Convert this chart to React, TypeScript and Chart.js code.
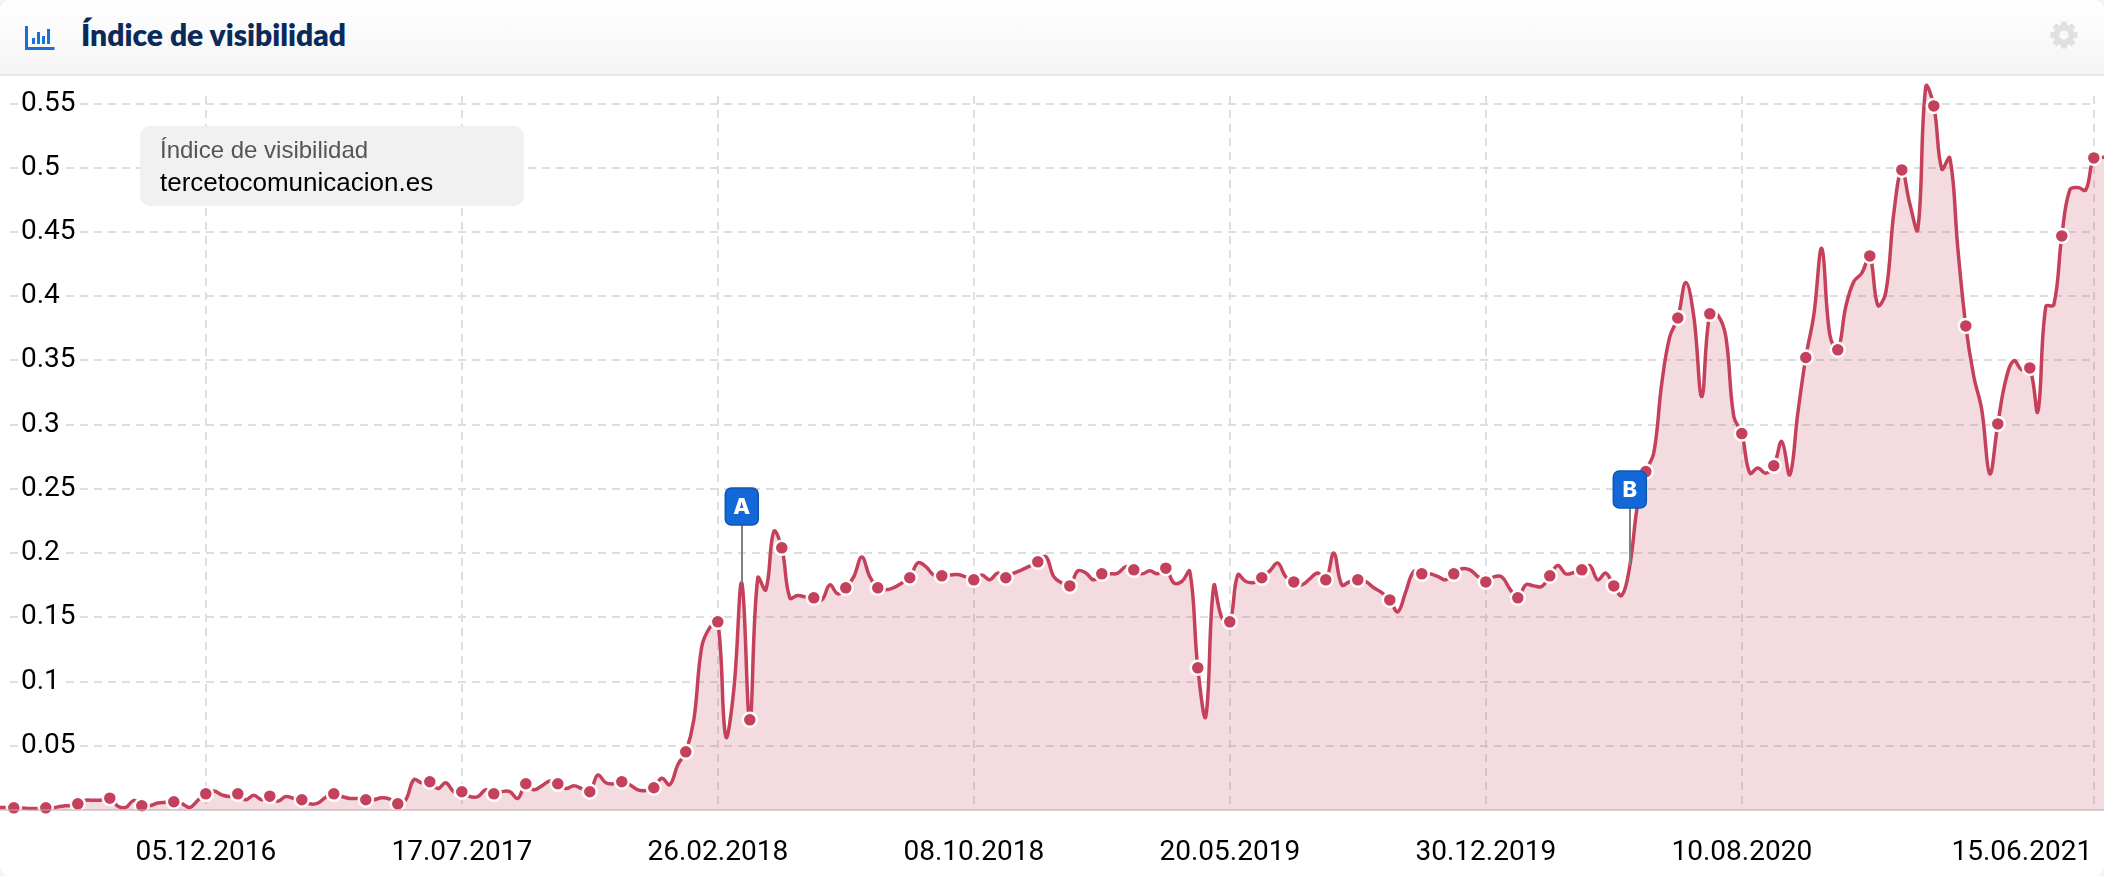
import React, { useEffect, useRef } from "react";
import { Chart, registerables } from "chart.js";

Chart.register(...registerables);

const seriesName = "Índice de visibilidad";
const domainName = "tercetocomunicacion.es";

// Weekly values; every fourth one carries a marker
const visibility = [
  0.002, 0.002,
  0.0017, 0.0015, 0.0012, 0.0012,
  0.0017, 0.0018, 0.003, 0.0035,
  0.0048, 0.0076, 0.0075, 0.0078,
  0.0092, 0.003, 0.002, 0.0075,
  0.0033, 0.0033, 0.0055, 0.006,
  0.0064, 0.005, 0.002, 0.0075,
  0.0126, 0.0147, 0.0118, 0.0105,
  0.0126, 0.008, 0.0115, 0.008,
  0.0108, 0.0068, 0.0105, 0.009,
  0.008, 0.0048, 0.0053, 0.01,
  0.0126, 0.0105, 0.009, 0.009,
  0.008, 0.008, 0.0095, 0.0085,
  0.0048, 0.008, 0.0236, 0.0212,
  0.022, 0.0167, 0.0212, 0.0143,
  0.0142, 0.0105, 0.0105, 0.0157,
  0.0126, 0.0143, 0.0143, 0.009,
  0.0204, 0.0157, 0.0188, 0.0225,
  0.0204, 0.0167, 0.0188, 0.0167,
  0.0142, 0.0272, 0.0212, 0.0204,
  0.022, 0.0197, 0.0157, 0.0152,
  0.0173, 0.0247, 0.0197, 0.0353,
  0.0453, 0.07, 0.1273, 0.142,
  0.1465, 0.0572, 0.0936, 0.1768,
  0.0702, 0.1808, 0.1714, 0.2168,
  0.2041, 0.1652, 0.167, 0.1658,
  0.1652, 0.1636, 0.1753, 0.1683,
  0.173, 0.1817, 0.197, 0.1817,
  0.173, 0.1714, 0.1732, 0.1768,
  0.1808, 0.1924, 0.1895, 0.183,
  0.1823, 0.183, 0.1833, 0.1815,
  0.1792, 0.183, 0.1792, 0.1846,
  0.1808, 0.1844, 0.187, 0.19,
  0.1932, 0.1973, 0.1817, 0.1768,
  0.1745, 0.1862, 0.1846, 0.1792,
  0.1839, 0.1839, 0.1844, 0.1895,
  0.187, 0.1839, 0.1862, 0.1839,
  0.1883, 0.1768, 0.1779, 0.1857,
  0.1107, 0.0728, 0.1745, 0.1496,
  0.1465, 0.183, 0.1779, 0.1771,
  0.1808, 0.1862, 0.1922, 0.1815,
  0.1776, 0.1753, 0.18, 0.1846,
  0.1792, 0.2, 0.1753, 0.1779,
  0.1792, 0.1779, 0.173, 0.1693,
  0.1636, 0.1543, 0.1701, 0.1857,
  0.1839, 0.1839, 0.1818, 0.1792,
  0.1839, 0.1878, 0.187, 0.1818,
  0.1776, 0.1815, 0.1815, 0.1722,
  0.1652, 0.1753, 0.1745, 0.174,
  0.1823, 0.1903, 0.1839, 0.1849,
  0.187, 0.1903, 0.1792, 0.1844,
  0.1745, 0.167, 0.19, 0.2391,
  0.2635, 0.278, 0.3325, 0.3686,
  0.3831, 0.4107, 0.3842, 0.3219,
  0.3863, 0.3855, 0.3686, 0.3064,
  0.2931, 0.2623, 0.2662, 0.2623,
  0.268, 0.2869, 0.261, 0.309,
  0.3523, 0.3855, 0.4372, 0.37,
  0.3583, 0.392, 0.4114, 0.418,
  0.4314, 0.393, 0.403, 0.4647,
  0.4984, 0.472, 0.452, 0.5632,
  0.5482, 0.499, 0.5077, 0.4375,
  0.3769, 0.3375, 0.3115, 0.2617,
  0.3006, 0.3349, 0.3499, 0.3427,
  0.3442, 0.3102, 0.392, 0.3933,
  0.447, 0.4828, 0.4846, 0.4828,
  0.5077, 0.508, 0.51,
];

const gridWeeks = [26, 58, 90, 122, 154, 186, 218, 262];
const labelWeeks = [26, 58, 90, 122, 154, 186, 218, 253];
const labelTexts = [
  "05.12.2016", "17.07.2017", "26.02.2018", "08.10.2018",
  "20.05.2019", "30.12.2019", "10.08.2020", "15.06.2021",
];
const flagWeeks = [93, 204];
const flagLetters = ["A", "B"];

const LINE = "#c5405a";
const GRID = "#dedede";

const gridPlugin = {
  id: "dashGrid",
  beforeDraw(chart: any) {
    const { ctx, scales } = chart;
    const x = scales.x;
    const y = scales.y;
    const top = y.getPixelForValue(0.556);
    const bottom = y.getPixelForValue(0) - 2;
    const left = 10;
    const right = x.getPixelForValue(gridWeeks[gridWeeks.length - 1]);
    ctx.save();
    ctx.strokeStyle = GRID;
    ctx.lineWidth = 2;
    ctx.setLineDash([8, 6]);
    y.ticks.forEach((t: any) => {
      if (t.value <= 0) return;
      const py = Math.round(y.getPixelForValue(t.value));
      ctx.beginPath();
      ctx.moveTo(left, py);
      ctx.lineTo(right, py);
      ctx.stroke();
    });
    gridWeeks.forEach((w) => {
      const px = Math.round(x.getPixelForValue(w));
      ctx.beginPath();
      ctx.moveTo(px, top);
      ctx.lineTo(px, bottom);
      ctx.stroke();
    });
    ctx.restore();
  },
  afterDatasetsDraw(chart: any) {
    const { ctx, scales } = chart;
    const y0 = Math.round(scales.y.getPixelForValue(0));
    ctx.save();
    ctx.fillStyle = "rgba(190,170,175,0.55)";
    ctx.fillRect(0, y0 - 1, chart.width, 2);
    ctx.restore();
  },
};

const flagPlugin = {
  id: "flags",
  afterDatasetsDraw(chart: any) {
    const { ctx, scales } = chart;
    flagWeeks.forEach((w, k) => {
      const px = scales.x.getPixelForValue(w);
      const py = scales.y.getPixelForValue(visibility[w]);
      const boxW = 33;
      const boxH = 37;
      const stem = 58;
      ctx.save();
      ctx.fillStyle = "#808080";
      ctx.fillRect(Math.round(px) - 1, py - stem, 2, stem);
      ctx.beginPath();
      ctx.roundRect(px - boxW / 2, py - stem - boxH, boxW, boxH, 6);
      ctx.fillStyle = "#1268d8";
      ctx.fill();
      ctx.lineWidth = 1.5;
      ctx.strokeStyle = "#0f56b0";
      ctx.stroke();
      ctx.fillStyle = "#ffffff";
      ctx.font = "800 22px Inter";
      ctx.textAlign = "center";
      ctx.textBaseline = "middle";
      ctx.fillText(flagLetters[k], px, py - stem - boxH / 2 + 1);
      ctx.restore();
    });
  },
};

function ChartIcon() {
  return (
    <svg width="30" height="24" viewBox="0 0 30 24" style={{ position: "absolute", left: 25, top: 26 }}>
      <path d="M1.5 0v22.5h28" fill="none" stroke="#1a6fd6" strokeWidth="3" />
      <rect x="7" y="12" width="3" height="6" fill="#1a6fd6" />
      <rect x="12" y="6" width="3" height="12" fill="#1a6fd6" />
      <rect x="17" y="10" width="3" height="8" fill="#1a6fd6" />
      <rect x="22" y="3" width="3" height="15" fill="#1a6fd6" />
    </svg>
  );
}

function GearIcon() {
  const teeth = [0, 45, 90, 135, 180, 225, 270, 315];
  return (
    <svg width="28" height="28" viewBox="0 0 28 28" style={{ position: "absolute", left: 2050, top: 21 }}>
      {teeth.map((a) => (
        <rect key={a} x="11" y="0.5" width="6" height="6" rx="1" fill="#e0e0e0" transform={`rotate(${a} 14 14)`} />
      ))}
      <circle cx="14" cy="14" r="7.5" fill="none" stroke="#e0e0e0" strokeWidth="6" />
    </svg>
  );
}

export default function App() {
  const ref = useRef<HTMLCanvasElement>(null);

  useEffect(() => {
    const chart = new Chart(ref.current as HTMLCanvasElement, {
      type: "line",
      data: {
        datasets: [
          {
            label: seriesName,
            data: visibility.map((v, i) => ({ x: i, y: v })),
            borderColor: LINE,
            borderWidth: 3.5,
            backgroundColor: "rgba(197,64,90,0.19)",
            fill: "origin",
            tension: 0.4,
            clip: false,
            pointRadius: (c: any) => (c.dataIndex % 4 === 2 ? 7 : 0),
            pointHoverRadius: 7,
            pointBackgroundColor: LINE,
            pointBorderColor: "#ffffff",
            pointBorderWidth: 2.5,
          },
        ],
      },
      options: {
        animation: false,
        responsive: false,
        layout: { padding: { top: 76, left: 0, right: 0, bottom: 0 } },
        plugins: { legend: { display: false }, tooltip: { enabled: false }, title: { display: false } },
        scales: {
          x: {
            type: "linear",
            bounds: "data",
            min: 0.275,
            max: 263.275,
            grid: { display: false },
            border: { display: false },
            afterFit: (s: any) => {
              s.height = 66;
              s.paddingLeft = 0;
              s.paddingRight = 0;
            },
            afterBuildTicks: (s: any) => {
              s.ticks = labelWeeks.map((value) => ({ value }));
            },
            ticks: {
              autoSkip: false,
              maxRotation: 0,
              padding: 18,
              color: "#000",
              font: { family: "Roboto", size: 28 },
              callback: (v: any) => labelTexts[labelWeeks.indexOf(v)] ?? "",
            },
          },
          y: {
            min: 0,
            max: 0.5715,
            grid: { display: false },
            border: { display: false },
            afterFit: (s: any) => {
              s.width = 0;
            },
            ticks: {
              stepSize: 0.05,
              includeBounds: false,
              mirror: true,
              padding: 21,
              color: "#000",
              font: { family: "Roboto", size: 28 },
              showLabelBackdrop: true,
              backdropColor: "#ffffff",
              backdropPadding: { left: 3, right: 3, top: 0, bottom: 0 },
              callback: (v: any) => (v === 0 ? "" : String(Math.round(v * 100) / 100)),
            },
          },
        },
      },
      plugins: [gridPlugin, flagPlugin],
    } as any);
    return () => chart.destroy();
  }, []);

  return (
    <div style={{ position: "absolute", left: 0, top: 0, width: 2104, height: 876, background: "#f3f4f5", overflow: "hidden" }}>
      <div style={{ position: "absolute", left: 0, top: 0, width: 2104, height: 876, background: "#fff", overflow: "hidden", borderRadius: 10 }}>
        <canvas ref={ref} width={2104} height={876} style={{ position: "absolute", left: 0, top: 0 }} />
        <div
          style={{
            position: "absolute", left: 0, top: 0, width: 2104, height: 74,
            background: "linear-gradient(#ffffff, #f5f5f5)",
            borderBottom: "2px solid #e6e6e6",
          }}
        >
          <ChartIcon />
          <div style={{ position: "absolute", left: 81, top: 16, font: "800 30px Lato", color: "#0b2a5b", whiteSpace: "nowrap" }}>
            {seriesName}
          </div>
          <GearIcon />
        </div>
        <div
          style={{
            position: "absolute", left: 140, top: 126, width: 384, height: 80,
            background: "rgba(240,240,240,0.96)", borderRadius: 10,
          }}
        >
          <div style={{ position: "absolute", left: 20, top: 10, font: "24px 'Liberation Sans'", color: "#555", whiteSpace: "nowrap" }}>
            {seriesName}
          </div>
          <div style={{ position: "absolute", left: 20, top: 41, font: "26px 'Liberation Sans'", color: "#000", whiteSpace: "nowrap" }}>
            {domainName}
          </div>
        </div>
      </div>
    </div>
  );
}
